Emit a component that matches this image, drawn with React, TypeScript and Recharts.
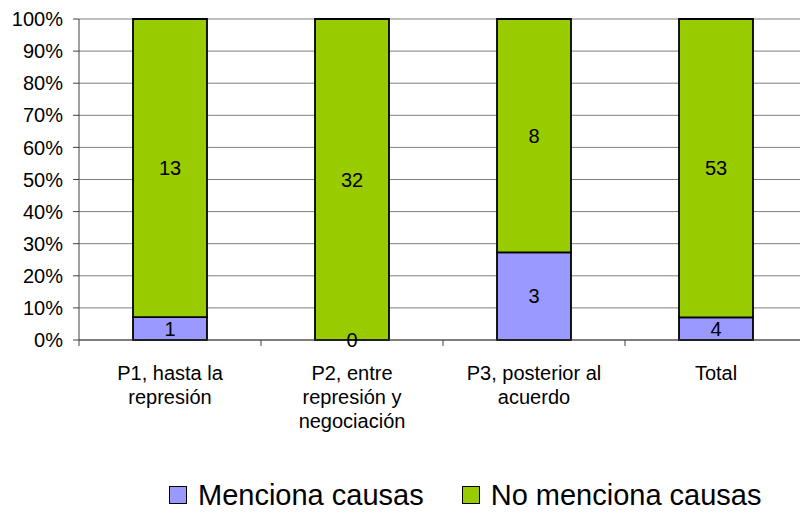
import React from 'react';
import { BarChart, Bar, XAxis, YAxis, CartesianGrid, LabelList } from 'recharts';

const categories = ['P1, hasta la represión', 'P2, entre represión y negociación', 'P3, posterior al acuerdo', 'Total'];
const categoryLines: string[][] = [
  ['P1, hasta la', 'represión'],
  ['P2, entre', 'represión y', 'negociación'],
  ['P3, posterior al', 'acuerdo'],
  ['Total'],
];
const mencionaCausas = [1, 0, 3, 4];
const noMencionaCausas = [13, 32, 8, 53];
const yTicks = [0, 0.1, 0.2, 0.3, 0.4, 0.5, 0.6, 0.7, 0.8, 0.9, 1];
const seriesNames = ['Menciona causas', 'No menciona causas'];
const seriesColors = ['#9999FF', '#99CC00'];

const data = categories.map((c, i) => ({
  name: c,
  idx: i,
  menciona: mencionaCausas[i],
  noMenciona: noMencionaCausas[i],
}));

const FONT = '"Liberation Sans", Arial, Helvetica, sans-serif';
const CHART_W = 820;
const CHART_H = 512;
const MARGIN = { top: 19, right: 13, left: 0, bottom: 72 };
const Y_W = 79;

const XTick = (props: any) => {
  const { x, y, payload, index } = props;
  const band = (CHART_W - MARGIN.left - MARGIN.right - Y_W) / categories.length;
  const lines = categoryLines[index] ?? [String(payload.value)];
  return (
    <g>
      <line x1={x - band / 2} x2={x - band / 2} y1={y} y2={y + 6} stroke="#404040" strokeWidth={1} />
      {index === categories.length - 1 && (
        <line x1={x + band / 2} x2={x + band / 2} y1={y} y2={y + 6} stroke="#404040" strokeWidth={1} />
      )}
      {lines.map((l, k) => (
        <text key={k} x={x} y={y + 40 + k * 24} textAnchor="middle" fontSize={20} fill="#000" fontFamily={FONT}>
          {l}
        </text>
      ))}
    </g>
  );
};

const textAt = (cx: number, cy: number, v: any) => (
  <text x={cx} y={cy} dy="0.355em" textAnchor="middle" fontSize={20} fill="#000" fontFamily={FONT}>
    {v}
  </text>
);

// Label for the bottom series (non-zero values; a zero value is drawn by the top series at the stack base)
const BottomLabel = (props: any) => {
  const { x, y, width, height, value } = props;
  if (value === undefined || value === null || Number(value) === 0) return null;
  return textAt(Number(x) + Number(width) / 2, Number(y) + Number(height) / 2, value);
};

// Label for the top series; also draws a zero-valued bottom series label at the stack base
const TopLabel = (props: any) => {
  const { x, y, width, height, value } = props;
  const cx = Number(x) + Number(width) / 2;
  const i = noMencionaCausas.indexOf(Number(value));
  return (
    <g>
      {textAt(cx, Number(y) + Number(height) / 2, value)}
      {i >= 0 && mencionaCausas[i] === 0 && textAt(cx, Number(y) + Number(height), 0)}
    </g>
  );
};

export default function App() {
  return (
    <div style={{ position: 'absolute', left: 0, top: 0, width: 800, height: 512, overflow: 'hidden', background: '#fff', fontFamily: FONT }}>
      <BarChart
        width={CHART_W}
        height={CHART_H}
        data={data}
        margin={MARGIN}
        stackOffset="expand"
        barSize={74}
      >
        <CartesianGrid vertical={false} stroke="#808080" strokeWidth={1} />
        <YAxis
          width={Y_W}
          domain={[0, 1]}
          ticks={yTicks}
          interval={0}
          tickFormatter={(v: number) => `${Math.round(v * 100)}%`}
          tick={{ fontSize: 20, fill: '#000', fontFamily: FONT }}
          tickSize={6}
          tickMargin={10}
          stroke="#404040"
          tickLine={{ stroke: '#404040' }}
          axisLine={{ stroke: '#404040' }}
        />
        <XAxis
          dataKey="name"
          interval={0}
          height={100}
          tickLine={false}
          tickSize={0}
          tickMargin={0}
          axisLine={{ stroke: '#404040' }}
          tick={<XTick />}
        />
        <Bar dataKey="menciona" stackId="a" fill={seriesColors[0]} stroke="#000" strokeWidth={1.8} isAnimationActive={false}>
          <LabelList dataKey="menciona" content={<BottomLabel />} />
        </Bar>
        <Bar dataKey="noMenciona" stackId="a" fill={seriesColors[1]} stroke="#000" strokeWidth={1.8} isAnimationActive={false}>
          <LabelList dataKey="noMenciona" content={<TopLabel />} />
        </Bar>
      </BarChart>
      <div style={{ position: 'absolute', left: 169, top: 482, display: 'flex', alignItems: 'center', fontSize: 29, color: '#000', whiteSpace: 'nowrap', lineHeight: '26px', height: 26 }}>
        {seriesNames.map((n, i) => (
          <div key={n} style={{ display: 'flex', alignItems: 'center', marginRight: i === 0 ? 38 : 0 }}>
            <div style={{ width: 16, height: 16, background: seriesColors[i], border: '1px solid #000', marginRight: 11 }} />
            <span>{n}</span>
          </div>
        ))}
      </div>
    </div>
  );
}
